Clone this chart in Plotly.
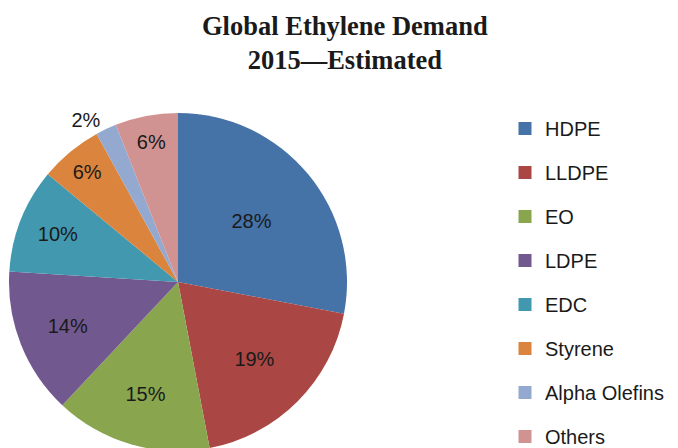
import plotly.graph_objects as go

categories = ["HDPE", "LLDPE", "EO", "LDPE", "EDC", "Styrene", "Alpha Olefins", "Others"]
values = [28, 19, 15, 14, 10, 6, 2, 6]
colors = ["#4572A7", "#AA4643", "#89A54E", "#71588F", "#4198AF", "#DB843D", "#93A9CF", "#D19392"]
positions = ["inside", "inside", "inside", "inside", "inside", "inside", "outside", "inside"]

W, H = 678, 448
fig = go.Figure()
fig.add_trace(go.Pie(
    labels=categories, values=values, sort=False, direction="clockwise", rotation=0,
    marker=dict(colors=colors, line=dict(width=0)),
    texttemplate="%{value}%", textposition=positions,
    insidetextorientation="horizontal",
    textfont=dict(family="Liberation Sans, Arial", size=20, color="#1a1a1a"),
    showlegend=False, hoverinfo="label+percent",
    domain=dict(x=[1 / W, 339 / W], y=[5 / H, 343 / H]),
))
for cat, col in zip(categories, colors):
    fig.add_trace(go.Scatter(
        x=[None], y=[None], mode="markers", name=cat, legendgroup=cat,
        marker=dict(symbol="square", size=13, color=col),
    ))

fig.add_annotation(
    text="<b>Global Ethylene Demand<br>2015\u2014Estimated</b>",
    xref="paper", yref="paper", x=337 / W, y=1 - 1 / H, xanchor="center", yanchor="top",
    showarrow=False, align="center",
    font=dict(family="Liberation Serif, Times New Roman", size=26.5, color="#1a1a1a"),
)

fig.update_layout(
    width=W, height=H, margin=dict(l=0, r=0, t=0, b=0, autoexpand=False),
    paper_bgcolor="white", plot_bgcolor="white",
    xaxis=dict(visible=False), yaxis=dict(visible=False),
    legend=dict(x=497 / W, xanchor="left", y=0, yanchor="bottom",
                font=dict(family="Liberation Sans, Arial", size=20, color="#1a1a1a"),
                tracegroupgap=15, bgcolor="rgba(0,0,0,0)"),
)
fig.write_html("out.html")
